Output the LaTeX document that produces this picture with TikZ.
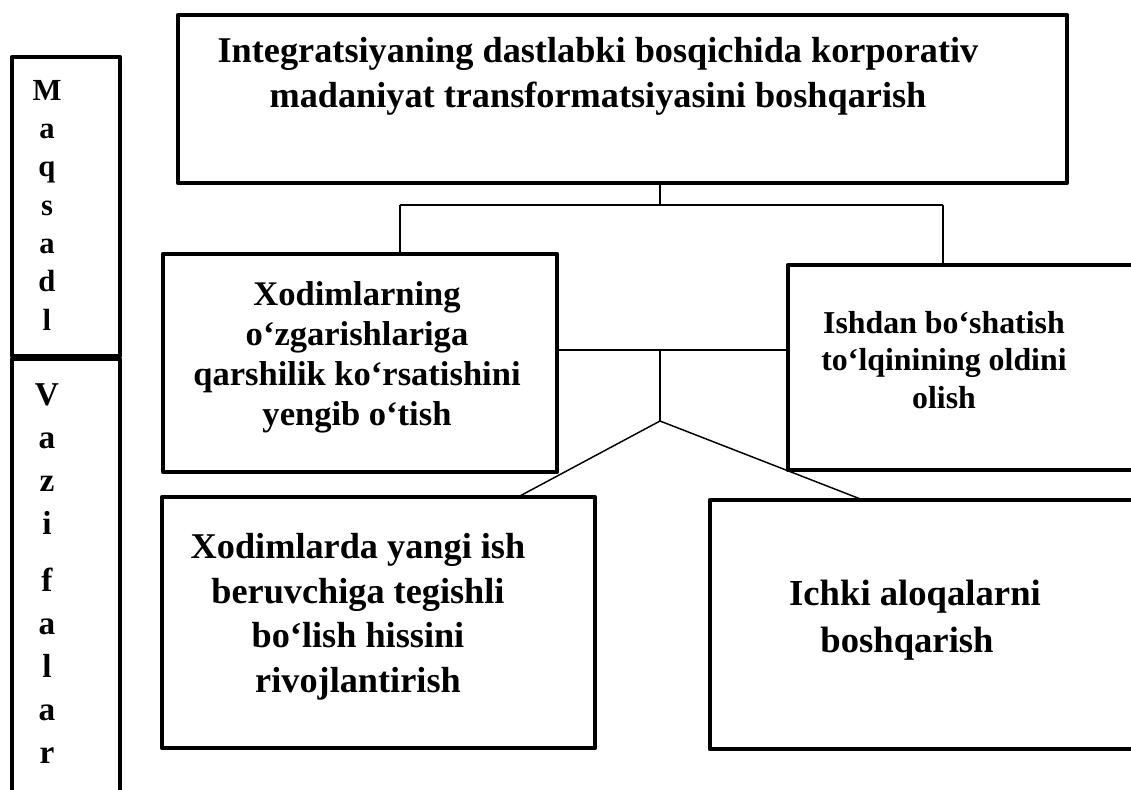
\documentclass[tikz,border=0pt]{standalone}
\usepackage{fontspec}
\setmainfont{Liberation Serif}
\usetikzlibrary{fit}
\tikzset{
  frame/.style={draw, line width=3.6pt, line join=round, inner sep=0pt},
  link/.style={line width=1.1pt},
  % anchor=base sits on the baseline of the last line
  lbl/.style={font=\bfseries, align=center, inner sep=0pt, anchor=base},
}
\begin{document}
\begin{tikzpicture}[x=0.75pt,y=-0.75pt]
\useasboundingbox (0,0) rectangle (1131,789);
\clip (0,0) rectangle (1131,789);

% frames
\node[frame, fit={(178,15) (1067,183)}] (top) {};
\node[frame, fit={(12,57) (120,356)}] (goal) {};
\node[frame, fit={(12,359) (120,820)}] (task) {};
\node[frame, fit={(163,254) (557,472)}] (A) {};
\node[frame, fit={(788,265) (1150,470)}] (B) {};
\node[frame, fit={(162,497) (595,748)}] (C) {};
\node[frame, fit={(710,500) (1150,749)}] (D) {};

% texts
\node[lbl, font=\bfseries\fontsize{27.2}{33.75}\selectfont] (topt) at (598,107)
  {Integratsiyaning dastlabki bosqichida korporativ\\madaniyat transformatsiyasini boshqarish};
\node[lbl, font=\bfseries\fontsize{23}{28.7}\selectfont] (goalt) at (47,330)
  {M\\a\\q\\s\\a\\d\\l};
\node[lbl, font=\bfseries\fontsize{25}{32.25}\selectfont] (taskt) at (47,763)
  {V\\a\\z\\i\\[10.5pt]f\\a\\l\\a\\r};
\node[lbl, font=\bfseries\fontsize{25.9}{30}\selectfont] (At) at (357,425)
  {Xodimlarning\\o‘zgarishlariga\\qarshilik ko‘rsatishini\\yengib o‘tish};
\node[lbl, font=\bfseries\fontsize{23.9}{28.1}\selectfont] (Bt) at (944,408)
  {Ishdan bo‘shatish\\to‘lqinining oldini\\olish};
\node[lbl, font=\bfseries\fontsize{27.2}{33.3}\selectfont] (Ct) at (358,692)
  {Xodimlarda yangi ish\\beruvchiga tegishli\\bo‘lish hissini\\rivojlantirish};
\node[lbl, font=\bfseries\fontsize{27.5}{35.25}\selectfont] (Dt) at (915,652)
  {Ichki aloqalarni\\boshqarish\hspace*{12pt}};

% junction points
\coordinate (j1) at (660,205);
\coordinate (jL) at (400,205);
\coordinate (jR) at (943,205);
\coordinate (jm) at (660,350);
\coordinate (apex) at (660,421);
\coordinate (cC) at (518,497);
\coordinate (cD) at (863,500);

% connectors
\draw[link] (top.south -| j1) -- (j1);
\draw[link] (jL) -- (jR);
\draw[link] (jL) -- (A.north -| jL);
\draw[link] (jR) -- (B.north -| jR);
\draw[link] (A.east |- jm) -- (B.west |- jm);
\draw[link] (jm) -- (apex);
\draw[link] (apex) -- (cC);
\draw[link] (apex) -- (cD);
\end{tikzpicture}
\end{document}
